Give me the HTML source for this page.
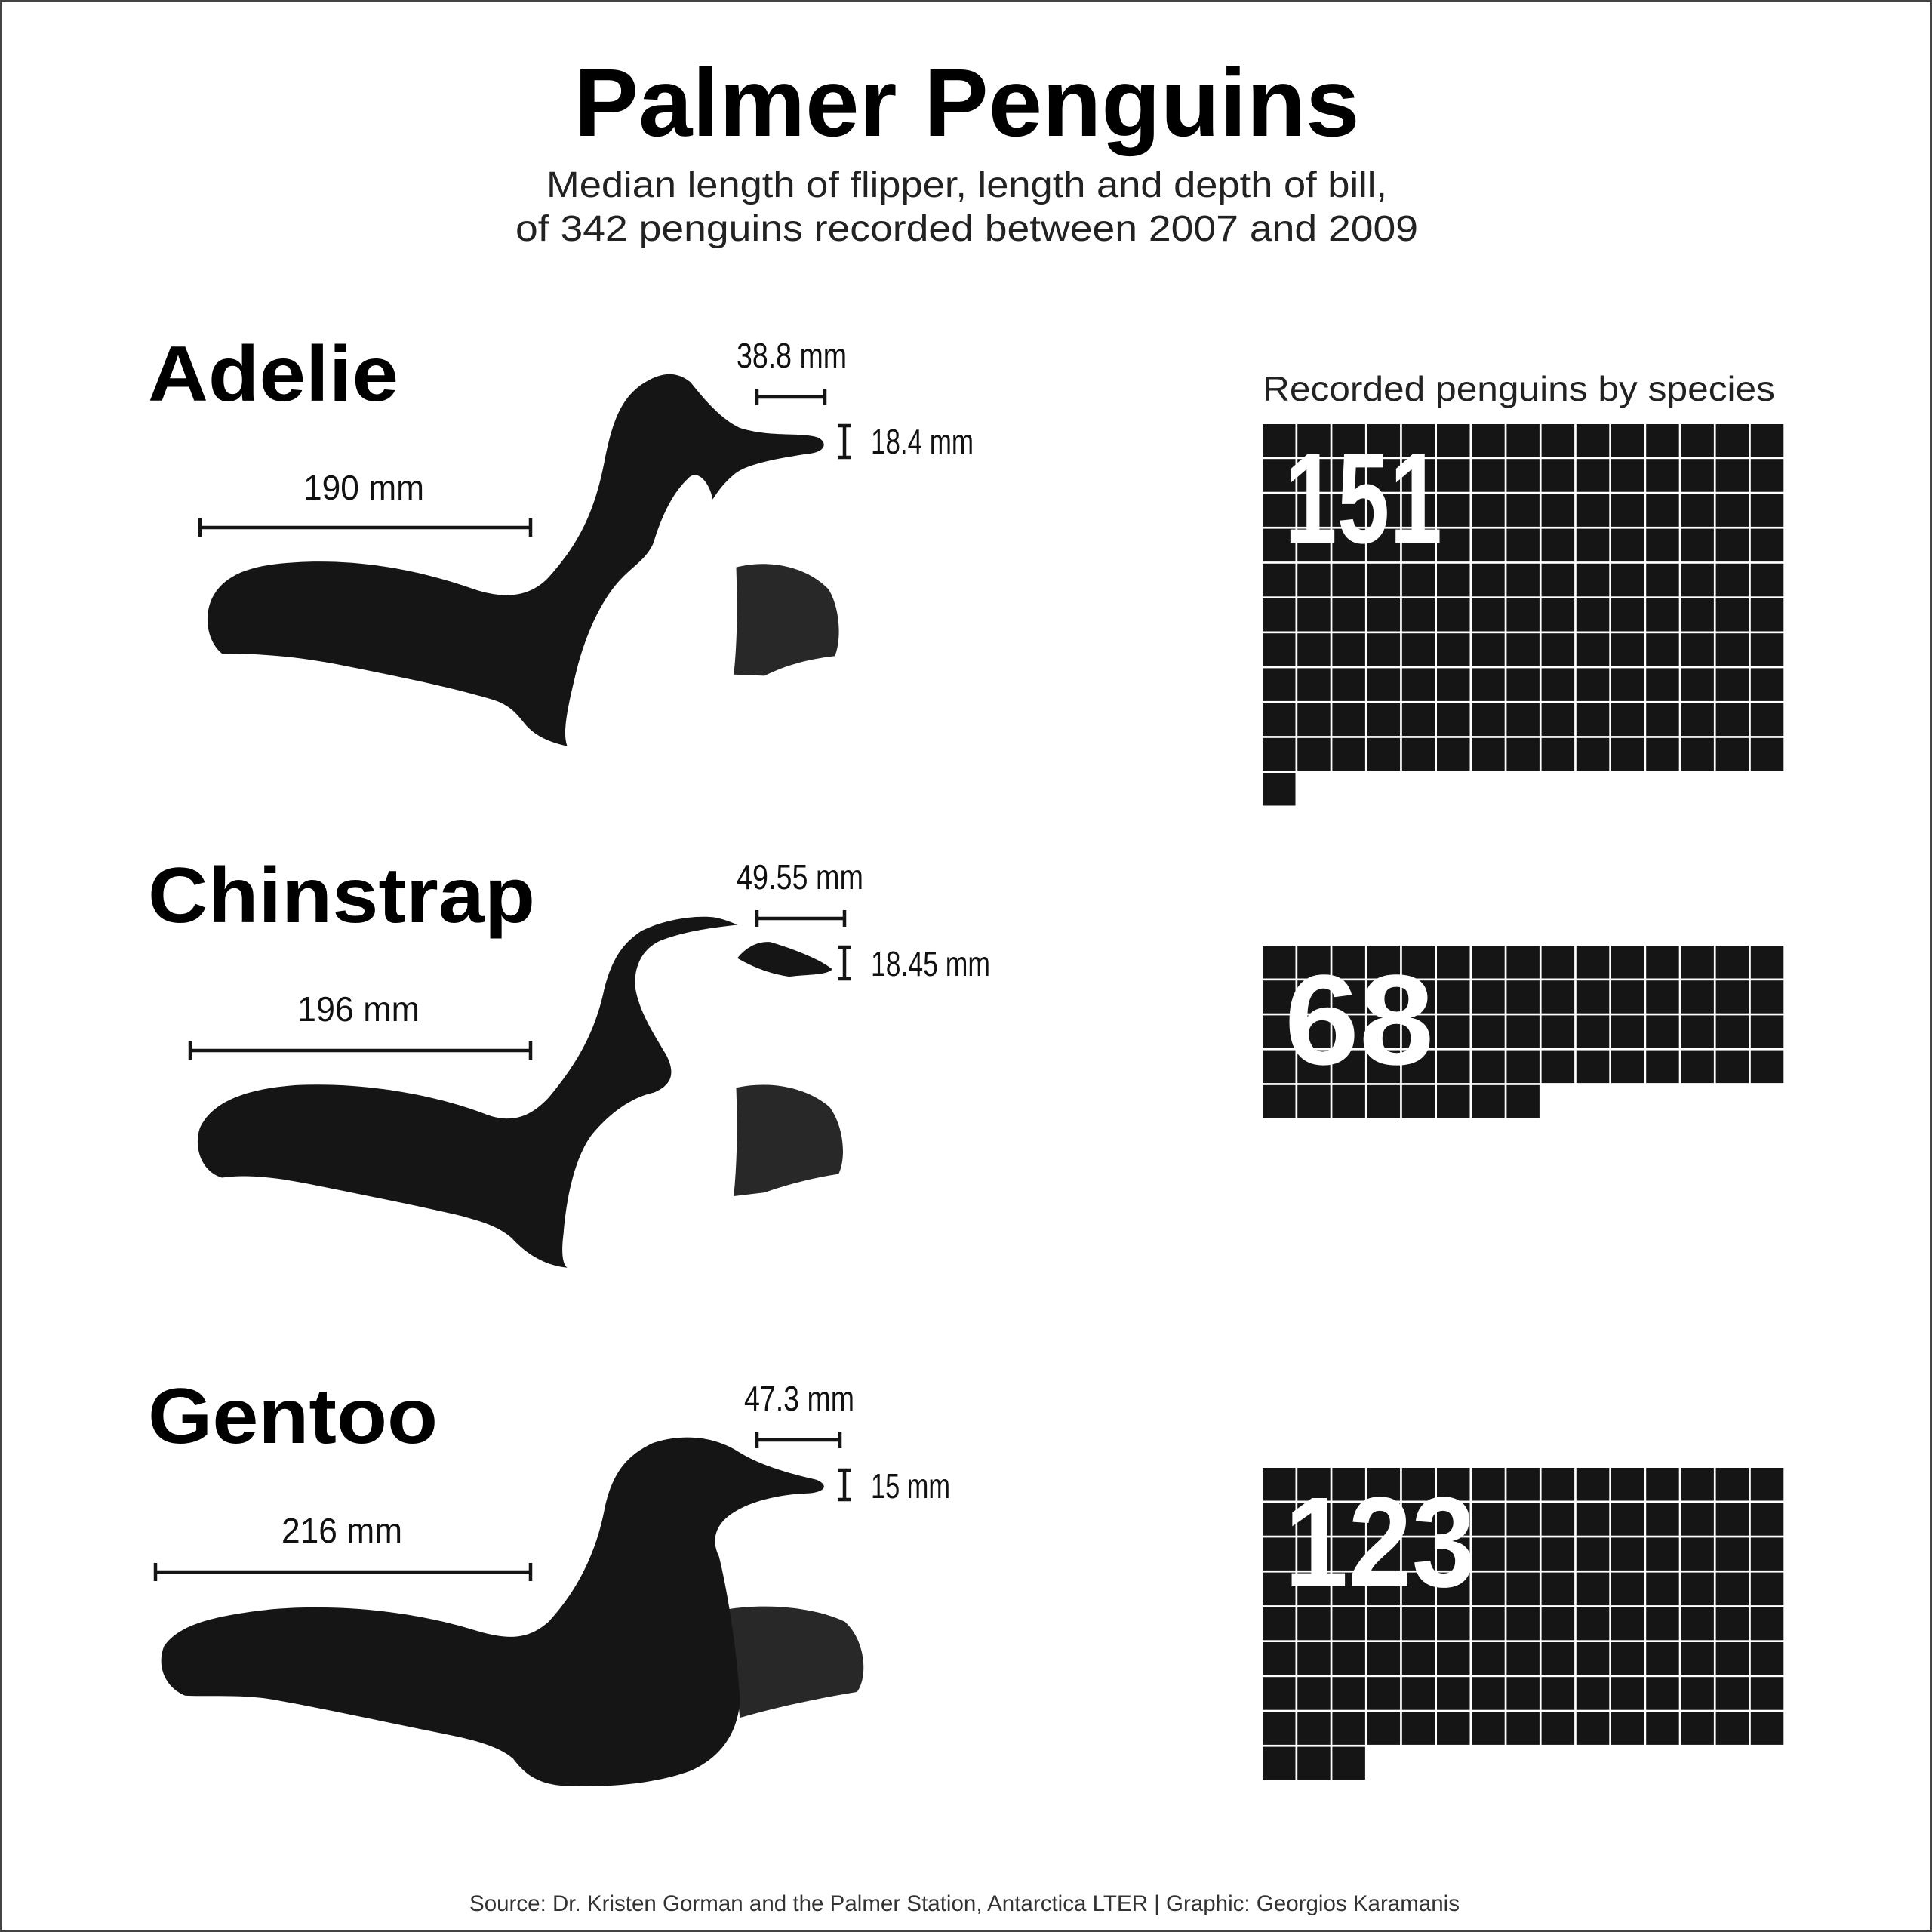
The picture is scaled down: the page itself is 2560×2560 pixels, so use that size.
<!DOCTYPE html>
<html><head><meta charset="utf-8">
<style>
html,body{margin:0;padding:0;background:#fff;}
svg{display:block;}
text{font-family:"Liberation Sans",sans-serif;}
</style></head>
<body>
<svg id="chart" width="2560" height="2560" viewBox="0 0 2560 2560" xmlns="http://www.w3.org/2000/svg">
<rect x="1" y="1" width="2558" height="2558" fill="#fff" stroke="#444" stroke-width="2"/>
<text x="1281" y="180" text-anchor="middle" font-size="128" font-weight="bold" fill="#000" textLength="1041" lengthAdjust="spacingAndGlyphs">Palmer Penguins</text>
<text x="1281" y="261" text-anchor="middle" font-size="48" fill="#222" textLength="1114" lengthAdjust="spacingAndGlyphs">Median length of flipper, length and depth of bill,</text>
<text x="1281" y="319" text-anchor="middle" font-size="48" fill="#222" textLength="1196" lengthAdjust="spacingAndGlyphs">of 342 penguins recorded between 2007 and 2009</text>

<text x="196" y="531" font-size="104" font-weight="bold" textLength="332" lengthAdjust="spacingAndGlyphs">Adelie</text>
<text x="196" y="1222" font-size="104" font-weight="bold" textLength="513" lengthAdjust="spacingAndGlyphs">Chinstrap</text>
<text x="196" y="1912" font-size="104" font-weight="bold" textLength="384" lengthAdjust="spacingAndGlyphs">Gentoo</text>

<g transform="scale(1.634)">
  <path fill="#282828" d="M597,460 C625,453 655,460 672,478 C682,495 682,520 677,532 C660,534 640,538 620,548 L595,547 C598,520 598,490 597,460 Z"/>
  <path fill="#151515" d="M180,530 C168,520 165,500 172,485 C182,465 205,458 240,456 C290,453 340,462 385,478 C410,486 430,484 445,468 C470,440 482,415 490,375 C496,345 502,325 520,312 C535,302 548,300 560,310 C572,325 585,340 600,347 C625,355 650,350 664,355 C672,360 668,367 655,368 C630,372 605,376 595,385 C585,393 578,405 578,405 C575,390 565,380 558,388 C545,400 536,420 530,440 C525,452 515,458 505,468 C488,485 474,515 466,550 C460,575 456,595 460,605 C445,602 432,596 424,585 C416,575 410,570 395,566 C360,556 320,548 280,540 C250,534 220,530 180,530 Z"/>
  <path fill="#282828" d="M597,882 C625,876 655,882 673,898 C685,915 686,940 680,952 C660,955 640,960 620,967 L595,970 C598,940 598,910 597,882 Z"/>
  <path fill="#151515" d="M598,777 C605,768 615,763 625,764 C645,770 665,778 675,786 C670,791 655,790 640,792 C625,790 610,784 598,777 Z"/>
  <path fill="#151515" d="M180,955 C163,950 157,930 162,915 C172,893 200,883 240,880 C300,877 360,890 395,904 C415,911 430,906 445,890 C465,866 482,840 490,802 C496,778 505,765 520,755 C540,745 565,742 580,744 C590,746 598,750 598,750 C580,752 555,755 535,763 C520,770 514,785 515,800 C518,820 530,838 540,855 C548,870 545,880 530,886 C512,890 495,902 480,920 C465,940 459,975 457,1000 C455,1015 456,1025 460,1028 C440,1026 425,1015 415,1004 C405,995 390,990 370,985 C330,976 290,968 250,960 C225,955 200,952 180,955 Z"/>
  <path fill="#282828" d="M590,1305 C620,1300 660,1303 685,1315 C702,1330 704,1360 695,1372 C665,1377 635,1383 600,1393 Z"/>
  <path fill="#151515" d="M150,1375 C133,1368 127,1350 133,1335 C145,1317 175,1310 220,1305 C280,1300 340,1308 385,1322 C412,1330 428,1330 445,1315 C468,1290 483,1260 490,1225 C496,1195 508,1180 530,1170 C555,1162 580,1165 600,1178 C620,1190 645,1196 662,1200 C672,1204 670,1210 655,1211 C630,1212 605,1218 590,1230 C578,1240 578,1252 583,1262 C590,1290 598,1340 600,1380 C598,1405 585,1425 560,1436 C530,1447 490,1450 455,1448 C435,1446 425,1438 416,1426 C405,1417 390,1412 360,1406 C310,1396 260,1385 220,1378 C195,1374 170,1376 150,1375 Z"/>
</g>

<g stroke="#151515" stroke-width="4.5" fill="none">
  <path d="M265,699 H703 M265,687 V711 M703,687 V711"/>
  <path d="M1003,526 H1093 M1003,515 V537 M1093,515 V537"/>
  <path d="M1119,564 V606 M1110,564 H1128 M1110,606 H1128"/>
  <path d="M252,1392 H703 M252,1380 V1404 M703,1380 V1404"/>
  <path d="M1003,1217 H1119 M1003,1206 V1228 M1119,1206 V1228"/>
  <path d="M1119,1255 V1297 M1110,1255 H1128 M1110,1297 H1128"/>
  <path d="M206,2083 H703 M206,2071 V2095 M703,2071 V2095"/>
  <path d="M1003,1908 H1113 M1003,1897 V1919 M1113,1897 V1919"/>
  <path d="M1119,1948 V1987 M1110,1948 H1128 M1110,1987 H1128"/>
</g>
<g font-size="46" fill="#111">
  <text x="482" y="662" text-anchor="middle" textLength="160" lengthAdjust="spacingAndGlyphs">190 mm</text>
  <text x="1049" y="487" text-anchor="middle" textLength="146" lengthAdjust="spacingAndGlyphs">38.8 mm</text>
  <text x="1154" y="601" textLength="136" lengthAdjust="spacingAndGlyphs">18.4 mm</text>
  <text x="475" y="1353" text-anchor="middle" textLength="162" lengthAdjust="spacingAndGlyphs">196 mm</text>
  <text x="1060" y="1178" text-anchor="middle" textLength="168" lengthAdjust="spacingAndGlyphs">49.55 mm</text>
  <text x="1154" y="1293" textLength="158" lengthAdjust="spacingAndGlyphs">18.45 mm</text>
  <text x="453" y="2044" text-anchor="middle" textLength="160" lengthAdjust="spacingAndGlyphs">216 mm</text>
  <text x="1059" y="1869" text-anchor="middle" textLength="146" lengthAdjust="spacingAndGlyphs">47.3 mm</text>
  <text x="1154" y="1985" textLength="105" lengthAdjust="spacingAndGlyphs">15 mm</text>
</g>

<text x="1673" y="531" font-size="46" fill="#222" textLength="679" lengthAdjust="spacingAndGlyphs">Recorded penguins by species</text>
<g id="waffles"></g>

<text x="1278" y="2532" text-anchor="middle" font-size="30" fill="#333" textLength="1312" lengthAdjust="spacingAndGlyphs">Source: Dr. Kristen Gorman and the Palmer Station, Antarctica LTER | Graphic: Georgios Karamanis</text>
</svg>
<script>
const species = ["Adelie", "Chinstrap", "Gentoo"];
const counts = [151, 68, 123];
const perRow = 15;
const gridTops = [562, 1253, 1945];
const NS = "http://www.w3.org/2000/svg";
const g = document.getElementById("waffles");
const x0 = 1673, pitch = 46.2, cellSize = 43.5;
for (let s = 0; s < species.length; s++) {
  const grp = document.createElementNS(NS, "g");
  
  
  for (let i = 0; i < counts[s]; i++) {
    const r = document.createElementNS(NS, "rect");
    
    
    r.setAttribute("x", x0 + (i % perRow) * pitch);
    r.setAttribute("y", gridTops[s] + Math.floor(i / perRow) * pitch);
    r.setAttribute("width", cellSize);
    r.setAttribute("height", cellSize);
    r.setAttribute("fill", "#151515");
    grp.appendChild(r);
  }
  const label = String(counts[s]);
  let w = 0;
  for (const ch of label) w += (ch === "1") ? 55 : 99;
  const t = document.createElementNS(NS, "text");
  
  
  t.setAttribute("x", 1702);
  t.setAttribute("y", gridTops[s] + 157);
  t.setAttribute("font-size", "170");
  t.setAttribute("font-weight", "bold");
  t.setAttribute("fill", "#fff");
  t.setAttribute("textLength", w);
  t.setAttribute("lengthAdjust", "spacingAndGlyphs");
  t.textContent = label;
  grp.appendChild(t);
  g.appendChild(grp);
}
</script>
</body></html>
